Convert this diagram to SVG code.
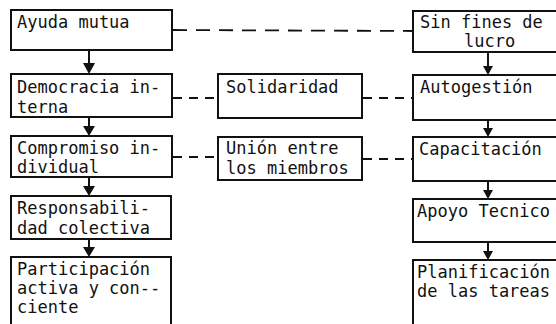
<svg xmlns="http://www.w3.org/2000/svg" width="556" height="324" viewBox="0 0 556 324">
<defs>
<style>
.box{fill:#fff;stroke:#111;stroke-width:2}
.t{font-family:"DejaVu Sans Mono","Liberation Mono",monospace;font-size:17px;fill:#111}
.dl{stroke:#111;stroke-width:1.8;fill:none;stroke-dasharray:14 9}
.ds{stroke:#111;stroke-width:1.8;fill:none;stroke-dasharray:9 7}
.stem{stroke:#111;stroke-width:2;fill:none}
.head{fill:#111}
</style>
</defs>
<rect width="556" height="324" fill="#fff"/>
<g id="connectors">
<line class="dl" x1="173" y1="30" x2="413" y2="31"/>
<line class="ds" x1="173" y1="98" x2="218" y2="98"/>
<line class="ds" x1="363" y1="98" x2="413" y2="98"/>
<line class="ds" x1="173" y1="157" x2="218" y2="157"/>
<line class="ds" x1="363" y1="159" x2="413" y2="159"/>
<line class="stem" x1="89" y1="50" x2="89" y2="66"/><polygon class="head" points="83,63 95,63 89,74"/>
<line class="stem" x1="89" y1="117" x2="89" y2="128"/><polygon class="head" points="83,126 95,126 89,136"/>
<line class="stem" x1="89" y1="177" x2="89" y2="188"/><polygon class="head" points="83,186 95,186 89,196"/>
<line class="stem" x1="89" y1="239" x2="89" y2="250"/><polygon class="head" points="83,247 95,247 89,257"/>
<line class="stem" x1="488" y1="52" x2="488" y2="68"/><polygon class="head" points="483,66 493,66 488,75"/>
<line class="stem" x1="488" y1="120" x2="488" y2="130"/><polygon class="head" points="483,128 493,128 488,137"/>
<line class="stem" x1="488" y1="181" x2="488" y2="192"/><polygon class="head" points="483,190 493,190 488,199"/>
<line class="stem" x1="488" y1="242" x2="488" y2="253"/><polygon class="head" points="483,251 493,251 488,260"/>
</g>
<g id="ayuda"><rect class="box" x="11" y="10" width="161" height="40"/><text class="t" x="17" y="28">Ayuda mutua</text></g>
<g id="democracia"><rect class="box" x="11" y="74" width="161" height="43"/><text class="t" x="17" y="93">Democracia in-</text><text class="t" x="17" y="113">terna</text></g>
<g id="compromiso"><rect class="box" x="11" y="136" width="161" height="41"/><text class="t" x="17" y="154">Compromiso in-</text><text class="t" x="17" y="173">dividual</text></g>
<g id="responsabilidad"><rect class="box" x="11" y="196" width="160" height="43"/><text class="t" x="17" y="214">Responsabili-</text><text class="t" x="17" y="234">dad colectiva</text></g>
<g id="participacion"><rect class="box" x="11" y="257" width="160" height="90"/><text class="t" x="17" y="275">Participación</text><text class="t" x="17" y="294">activa y con--</text><text class="t" x="17" y="313">ciente</text></g>
<g id="solidaridad"><rect class="box" x="218" y="74" width="144" height="44"/><text class="t" x="226" y="93">Solidaridad</text></g>
<g id="union"><rect class="box" x="218" y="137" width="144" height="43"/><text class="t" x="226" y="154">Unión entre</text><text class="t" x="226" y="174">los miembros</text></g>
<g id="sinfines"><rect class="box" x="413" y="11" width="160" height="41"/><text class="t" x="420" y="28">Sin fines de</text><text class="t" x="464" y="47">lucro</text></g>
<g id="autogestion"><rect class="box" x="413" y="75" width="160" height="45"/><text class="t" x="420" y="93">Autogestión</text></g>
<g id="capacitacion"><rect class="box" x="413" y="137" width="160" height="44"/><text class="t" x="419" y="155">Capacitación</text></g>
<g id="apoyo"><rect class="box" x="413" y="199" width="160" height="43"/><text class="t" x="417" y="217">Apoyo Tecnico</text></g>
<g id="planificacion"><rect class="box" x="413" y="260" width="160" height="90"/><text class="t" x="417" y="278">Planificación</text><text class="t" x="417" y="297">de las tareas</text></g>
</svg>
